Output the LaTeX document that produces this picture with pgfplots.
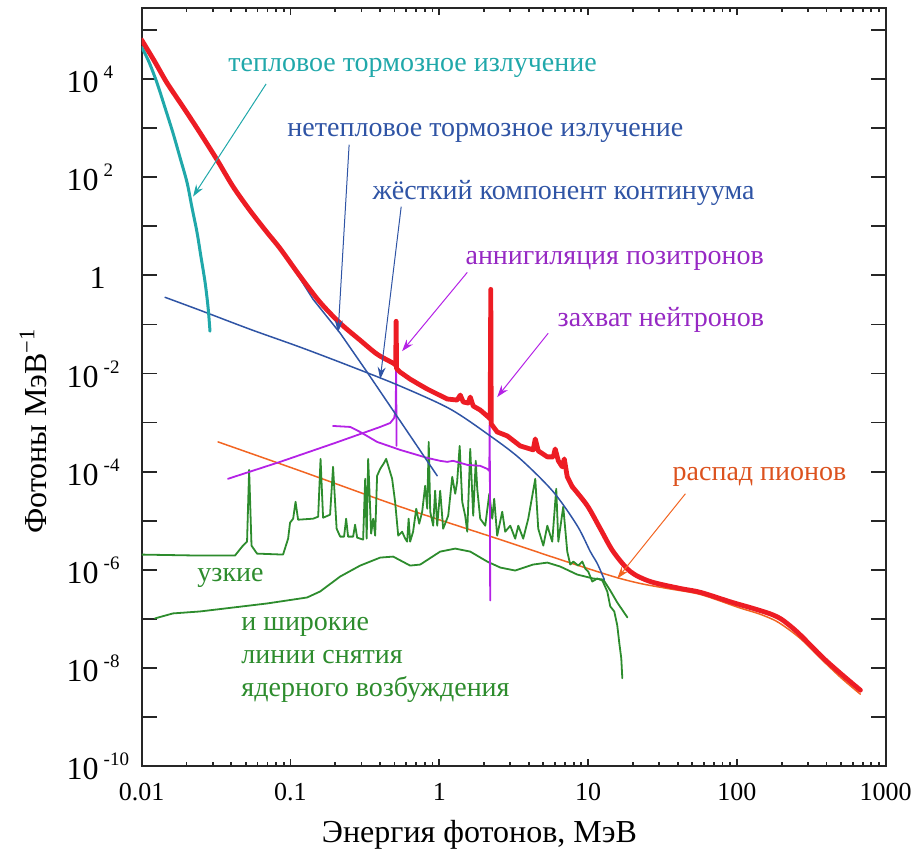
\documentclass[border=0pt]{standalone}
\usepackage{fontspec}
\setmainfont{Liberation Serif}
\usepackage{pgfplots}
\pgfplotsset{compat=1.18}
\usetikzlibrary{arrows.meta}

\definecolor{cred}{RGB}{237,28,36}
\definecolor{cteal}{RGB}{32,168,170}
\definecolor{cblue}{RGB}{47,84,165}
\definecolor{cpurp}{RGB}{180,34,230}
\definecolor{cpurptxt}{RGB}{150,40,195}
\definecolor{cgreen}{RGB}{45,140,45}
\definecolor{corange}{RGB}{242,101,34}
\definecolor{corangetxt}{RGB}{220,82,30}

% y tick label: "10" with raised exponent that takes no width
\newcommand{\yl}[1]{10\rlap{\hspace{2.5pt}\raisebox{7pt}{\fontsize{9.5}{9.5}\selectfont #1}}}

\begin{document}
\begin{tikzpicture}
\useasboundingbox (-70.85pt,-43pt) rectangle (385.15pt,383pt);
\begin{axis}[
  at={(0pt,0pt)}, anchor=south west,
  scale only axis, width=372pt, height=379pt,
  xmin=-2, xmax=3, ymin=-10, ymax=5.45,
  axis line style={line width=1pt, black!85},
  every tick/.style={black!85, line width=0.9pt},
  xtick={-2,-1,0,1,2,3},
  xticklabels={0.01,0.1,1,10,100,1000},
  minor xtick={-1.699,-1.523,-1.398,-1.301,-1.222,-1.155,-1.097,-1.046,
               -0.699,-0.523,-0.398,-0.301,-0.222,-0.155,-0.097,-0.046,
               0.301,0.477,0.602,0.699,0.778,0.845,0.903,0.954,
               1.301,1.477,1.602,1.699,1.778,1.845,1.903,1.954,
               2.301,2.477,2.602,2.699,2.778,2.845,2.903,2.954},
  xtick style={/pgfplots/major tick length=3.5pt, /pgfplots/minor tick length=1.8pt},
  ytick={-10,-9,-8,-7,-6,-5,-4,-3,-2,-1,0,1,2,3,4,5},
  yticklabels={\yl{-10},,\yl{-8},,\yl{-6},,\yl{-4},,\yl{-2},,1\kern-3.5pt,,\yl{2},,\yl{4},},
  ytick style={/pgfplots/major tick length=7.5pt},
  xticklabel style={anchor=base, inner sep=0pt, yshift=-17pt, font=\fontsize{13}{13}\selectfont},
  yticklabel style={anchor=base east, inner sep=0pt, xshift=-21.3pt, yshift=-6.8pt, font=\fontsize{16}{16}\selectfont},
  xlabel={Энергия фотонов, МэВ},
  ylabel={Фотоны МэВ\textsuperscript{−1}},
  every axis x label/.style={at={(axis description cs:0.454,-0.1003)}, anchor=base, font=\fontsize{16}{16}\selectfont},
  every axis y label/.style={at={(axis description cs:-0.1273,0.442)}, rotate=90, anchor=base, font=\fontsize{16}{16}\selectfont},
  every axis plot/.append style={line join=round, line cap=round},
]

% pion decay
\addplot[corange, line width=0.75pt, smooth] coordinates {
(-1.487,-3.394)(-0.935,-3.984)(-0.263,-4.715)(0.410,-5.386)(0.813,-5.793)
(1.169,-6.138)(1.351,-6.280)(1.533,-6.382)(1.755,-6.504)(2.010,-6.768)
(2.150,-6.900)(2.260,-7.040)(2.350,-7.220)(2.440,-7.439)(2.575,-7.845)(2.703,-8.211)(2.830,-8.537)};

% broad nuclear de-excitation lines
\addplot[cgreen, line width=0.9pt] coordinates {
(-1.911,-6.992)(-1.790,-6.890)(-1.608,-6.850)(-1.494,-6.809)(-1.157,-6.687)
(-0.888,-6.565)(-0.801,-6.443)(-0.666,-6.138)(-0.532,-5.915)(-0.397,-5.752)
(-0.310,-5.732)(-0.196,-5.915)(-0.128,-5.894)(0.006,-5.630)(0.107,-5.569)
(0.208,-5.630)(0.322,-5.833)(0.410,-5.955)(0.510,-6.016)(0.631,-5.894)
(0.726,-5.854)(0.813,-5.935)(0.927,-6.098)(1.035,-6.179)(1.102,-6.199)
(1.149,-6.423)(1.196,-6.667)(1.264,-6.971)};

% narrow nuclear de-excitation lines
\addplot[cgreen, line width=0.9pt] coordinates {
(-2.000,-5.691)(-1.608,-5.711)(-1.373,-5.711)(-1.325,-5.528)(-1.292,-5.427)
(-1.278,-3.963)(-1.262,-5.508)(-1.225,-5.671)(-1.050,-5.691)(-1.016,-5.366)
(-1.003,-5.041)(-0.982,-4.959)(-0.966,-4.614)(-0.949,-4.980)(-0.848,-4.959)
(-0.814,-4.919)(-0.798,-3.740)(-0.781,-4.939)(-0.734,-4.878)(-0.714,-3.902)
(-0.690,-5.163)(-0.666,-5.325)(-0.640,-5.325)(-0.626,-4.959)(-0.613,-5.325)
(-0.579,-5.325)(-0.566,-5.081)(-0.552,-5.345)(-0.512,-5.386)(-0.498,-4.146)
(-0.488,-5.366)(-0.478,-3.740)(-0.458,-5.264)(-0.444,-4.959)(-0.431,-5.305)
(-0.418,-4.085)(-0.397,-3.943)(-0.371,-3.821)(-0.357,-3.740)(-0.337,-3.943)
(-0.317,-4.146)(-0.297,-4.614)(-0.276,-5.305)(-0.250,-5.224)(-0.229,-5.366)
(-0.216,-5.427)(-0.206,-4.959)(-0.196,-5.427)(-0.176,-5.224)(-0.155,-4.756)
(-0.135,-5.061)(-0.115,-4.817)(-0.095,-4.289)(-0.081,-4.756)(-0.071,-3.394)
(-0.061,-4.817)(-0.041,-5.102)(-0.028,-4.390)(-0.014,-5.102)(0.006,-4.390)
(0.026,-5.163)(0.060,-4.898)(0.087,-4.106)(0.107,-4.451)(0.120,-4.207)
(0.137,-3.476)(0.154,-4.614)(0.174,-4.898)(0.188,-5.224)(0.208,-3.537)
(0.228,-4.898)(0.245,-3.780)(0.255,-4.350)(0.275,-4.959)(0.309,-5.102)
(0.336,-4.451)(0.356,-4.959)(0.369,-4.553)(0.389,-5.305)(0.423,-4.817)
(0.443,-5.224)(0.477,-5.102)(0.510,-5.366)(0.531,-5.102)(0.564,-5.366)
(0.598,-4.959)(0.645,-4.146)(0.665,-5.163)(0.699,-5.508)(0.726,-5.102)
(0.759,-5.427)(0.786,-4.350)(0.800,-5.427)(0.833,-4.715)(0.860,-5.630)
(0.880,-5.894)(0.900,-5.833)(0.934,-5.915)(0.961,-5.833)(0.981,-5.976)
(1.001,-6.037)(1.028,-6.240)(1.062,-6.179)(1.096,-6.219)(1.129,-6.443)
(1.149,-6.748)(1.176,-6.850)(1.196,-7.134)(1.210,-7.500)(1.223,-7.805)(1.230,-8.211)};

% positron annihilation: continuum and 0.511 MeV line
\addplot[cpurp, line width=0.9pt] coordinates {
(-1.420,-4.146)(-1.070,-3.801)(-0.700,-3.415)(-0.397,-3.089)(-0.330,-3.008)
(-0.303,-2.906)(-0.293,-2.724)(-0.290,-1.911)(-0.287,-3.476)};

% positronium continuum and 2.223 MeV neutron capture line
\addplot[cpurp, line width=0.9pt] coordinates {
(-0.714,-3.069)(-0.599,-3.089)(-0.532,-3.191)(-0.418,-3.394)(-0.263,-3.557)
(-0.081,-3.720)(0.006,-3.780)(0.053,-3.801)(0.093,-3.780)(0.188,-3.862)
(0.275,-3.882)(0.322,-3.943)(0.336,-3.984)(0.339,-2.825)(0.342,-6.626)};

% hard continuum component
\addplot[cblue, line width=0.75pt, smooth] coordinates {
(-1.843,-0.447)(-1.608,-0.711)(-1.272,-1.098)(-0.935,-1.463)(-0.599,-1.850)
(-0.263,-2.256)(0.073,-2.724)(0.342,-3.272)(0.544,-3.740)(0.766,-4.411)
(0.927,-5.102)(1.015,-5.630)(1.062,-5.874)(1.109,-6.199)};

% non-thermal bremsstrahlung
\addplot[cblue, line width=0.75pt] coordinates {
(-1.050,0.480)(-0.848,-0.488)(-0.666,-1.179)(-0.485,-1.972)
(-0.263,-2.967)(-0.014,-4.085)};

% thermal bremsstrahlung
\addplot[cteal, line width=1.5pt, smooth] coordinates {
(-2.000,4.654)(-1.951,4.350)(-1.897,3.923)(-1.843,3.415)(-1.790,2.906)
(-1.742,2.398)(-1.695,1.890)(-1.662,1.382)(-1.628,0.874)(-1.601,0.366)
(-1.574,-0.142)(-1.554,-0.650)(-1.541,-1.138)};

% total spectrum: low-energy part
\addplot[cred, line width=2.4pt, smooth, tension=0.5] coordinates {
(-2.000,4.797)(-1.911,4.350)(-1.830,3.923)(-1.709,3.374)(-1.608,2.906)
(-1.494,2.358)(-1.386,1.809)(-1.272,1.321)(-1.157,0.874)(-1.070,0.549)
(-0.935,-0.020)(-0.801,-0.549)(-0.666,-0.976)(-0.532,-1.321)(-0.418,-1.606)
(-0.310,-1.789)(-0.293,-1.829)};
% total spectrum: line region
\addplot[cred, line width=2.4pt] coordinates {
(-0.293,-1.829)(-0.290,-0.935)(-0.287,-1.900)(-0.263,-1.972)
(-0.196,-2.114)(-0.128,-2.236)(-0.081,-2.317)(0.053,-2.520)(0.120,-2.541)
(0.141,-2.439)(0.161,-2.581)(0.194,-2.602)(0.208,-2.480)(0.228,-2.663)
(0.275,-2.744)(0.329,-2.886)(0.342,-2.927)(0.346,-0.285)(0.349,-3.028)
(0.389,-3.191)(0.457,-3.272)(0.544,-3.476)(0.631,-3.557)(0.645,-3.333)
(0.665,-3.577)(0.726,-3.699)(0.766,-3.699)(0.779,-3.537)(0.800,-3.780)
(0.826,-3.902)(0.840,-3.740)(0.860,-4.106)(0.894,-4.309)};
% total spectrum: high-energy part
\addplot[cred, line width=2.4pt, smooth] coordinates {
(0.894,-4.309)(0.995,-4.695)(1.082,-5.163)(1.169,-5.630)(1.284,-6.037)
(1.418,-6.240)(1.620,-6.382)(1.755,-6.460)(1.963,-6.660)(2.100,-6.780)
(2.225,-6.900)(2.300,-7.010)(2.380,-7.200)(2.440,-7.370)(2.575,-7.784)
(2.703,-8.130)(2.830,-8.455)};

% annotations
\begin{scope}[font=\fontsize{14}{14}\selectfont, every node/.style={inner sep=0pt, anchor=base west}]
\draw[cteal, line width=0.5pt, -{Stealth[length=6pt, width=4pt]}] (axis cs:-1.164,3.902) -- (axis cs:-1.655,1.606);
\draw[cblue, line width=0.5pt, -{Stealth[length=6pt, width=4pt]}] (axis cs:-0.606,2.663) -- (axis cs:-0.680,-1.159);
\draw[cblue, line width=0.5pt, -{Stealth[length=6pt, width=4pt]}] (axis cs:-0.256,1.402) -- (axis cs:-0.397,-2.114);
\draw[cpurp, line width=0.5pt, -{Stealth[length=6pt, width=4pt]}] (axis cs:0.188,0.061) -- (axis cs:-0.250,-1.545);
\draw[cpurp, line width=0.5pt, -{Stealth[length=6pt, width=4pt]}] (axis cs:0.732,-1.179) -- (axis cs:0.389,-2.480);
\draw[corange, line width=0.5pt, -{Stealth[length=6pt, width=4pt]}] (axis cs:1.654,-4.451) -- (axis cs:1.196,-6.179);
\node[text=cteal] at (axis cs:-1.420,4.146) {тепловое тормозное излучение};
\node[text=cblue] at (axis cs:-1.023,2.825) {нетепловое тормозное излучение};
\node[text=cblue] at (axis cs:-0.451,1.545) {жёсткий компонент континуума};
\node[text=cpurptxt] at (axis cs:0.174,0.224) {аннигиляция позитронов};
\node[text=cpurptxt] at (axis cs:0.793,-1.037) {захват нейтронов};
\node[text=corangetxt] at (axis cs:1.566,-4.187) {распад пионов};
\node[text=cgreen] at (axis cs:-1.628,-6.240) {узкие};
\node[text=cgreen] at (axis cs:-1.332,-7.236) {и широкие};
\node[text=cgreen] at (axis cs:-1.332,-7.906) {линии снятия};
\node[text=cgreen] at (axis cs:-1.332,-8.577) {ядерного возбуждения};
\end{scope}
\end{axis}
\end{tikzpicture}
\end{document}
